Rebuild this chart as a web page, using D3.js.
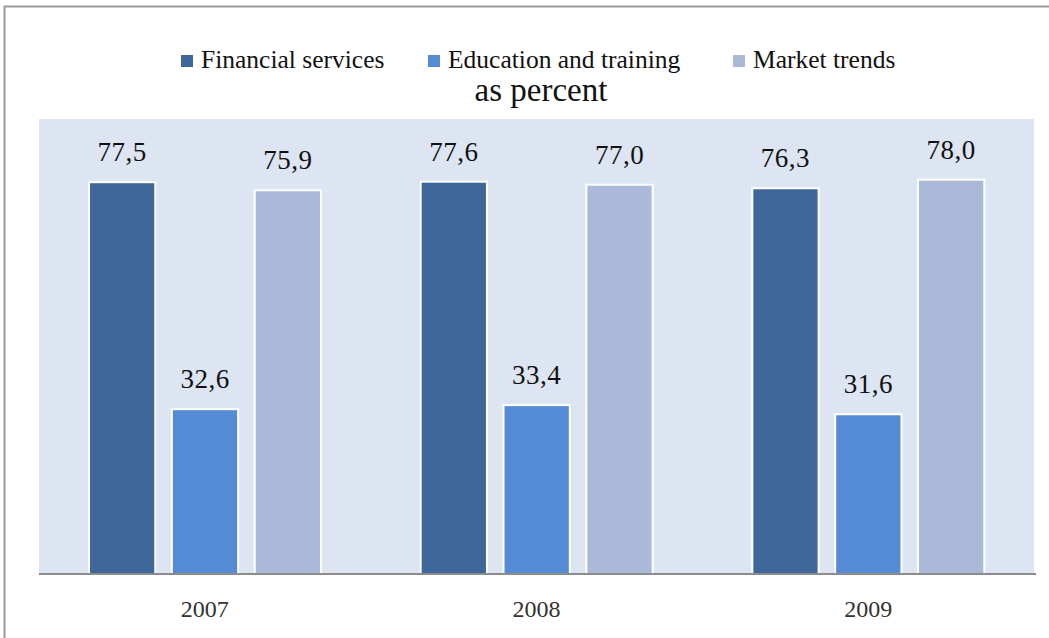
<!DOCTYPE html>
<html>
<head>
<meta charset="utf-8">
<script src="https://cdn.jsdelivr.net/npm/d3@7"></script>
<style>
  body { margin: 0; background: #fff; }
  svg { display: block; font-family: "Liberation Serif", "DejaVu Serif", serif; }
</style>
</head>
<body>
<svg id="chart" width="1049" height="638"></svg>
<script>
// data
const years = ["2007", "2008", "2009"];
const seriesNames = ["Financial services", "Education and training", "Market trends"];
const financial = [77.5, 77.6, 76.3];
const education = [32.6, 33.4, 31.6];
const market = [75.9, 77.0, 78.0];
const colors = ["#3e6899", "#548bd4", "#aab9d7"];

const svg = d3.select("#chart");

// outer frame (cut at the top/right like the picture)
svg.append("rect")
    .attr("x", 4.5).attr("y", 6.5)
    .attr("width", 1100).attr("height", 700)
    .attr("fill", "none")
    .attr("stroke", "#9a9a9a")
    .attr("stroke-width", 2);

const plot = { left: 39, right: 1034, top: 119, bottom: 574 };

svg.append("rect")
    .attr("x", plot.left).attr("y", plot.top)
    .attr("width", plot.right - plot.left)
    .attr("height", plot.bottom - plot.top)
    .attr("fill", "#dce5f1");

const x0 = d3.scaleBand().domain(years).range([plot.left, plot.right]);
const x1 = d3.scaleBand().domain(seriesNames).range([50, 282]).paddingInner(0.2);
const y = d3.scaleLinear().domain([0, 90]).range([plot.bottom, plot.top]);

const rows = years.map((yr, i) => ({
    year: yr,
    values: [financial[i], education[i], market[i]]
}));

const groups = svg.selectAll("g.year")
    .data(rows)
    .enter().append("g")
    .attr("class", "year")
    .attr("transform", d => `translate(${x0(d.year)},0)`);

groups.selectAll("rect")
    .data(d => d.values.map((v, k) => ({ name: seriesNames[k], value: v, k: k })))
    .enter().append("rect")
    .attr("x", d => x1(d.name))
    .attr("y", d => y(d.value))
    .attr("width", x1.bandwidth())
    .attr("height", d => y(0) - y(d.value))
    .attr("fill", d => colors[d.k])
    .attr("stroke", "#fff")
    .attr("stroke-width", 2);

groups.selectAll("text.val")
    .data(d => d.values.map((v, k) => ({ name: seriesNames[k], value: v })))
    .enter().append("text")
    .attr("class", "val")
    .attr("x", d => x1(d.name) + x1.bandwidth() / 2)
    .attr("y", d => y(d.value) - 21)
    .attr("text-anchor", "middle")
    .attr("font-size", 27)
    .attr("letter-spacing", 0.5)
    .attr("fill", "#111")
    .text(d => d.value.toFixed(1).replace(".", ","));

// x axis line
svg.append("line")
    .attr("x1", plot.left).attr("x2", plot.right + 2)
    .attr("y1", plot.bottom).attr("y2", plot.bottom)
    .attr("stroke", "#8c8c8c")
    .attr("stroke-width", 2);

svg.selectAll("text.yr")
    .data(years)
    .enter().append("text")
    .attr("class", "yr")
    .attr("x", d => x0(d) + x0.bandwidth() / 2)
    .attr("y", 617)
    .attr("text-anchor", "middle")
    .attr("font-size", 24)
    .attr("fill", "#333")
    .text(d => d);

// legend
const legendX = [181, 428, 733];
const legend = svg.selectAll("g.leg")
    .data(seriesNames)
    .enter().append("g")
    .attr("class", "leg")
    .attr("transform", (d, i) => `translate(${legendX[i]},55)`);
legend.append("rect")
    .attr("width", 12).attr("height", 12)
    .attr("fill", (d, i) => colors[i]);
legend.append("text")
    .attr("x", 20).attr("y", 13)
    .attr("font-size", 25.5)
    .attr("fill", "#111")
    .text(d => d);

svg.append("text")
    .attr("x", 541).attr("y", 101)
    .attr("text-anchor", "middle")
    .attr("font-size", 33)
    .attr("fill", "#111")
    .text("as percent");
</script>
</body>
</html>
